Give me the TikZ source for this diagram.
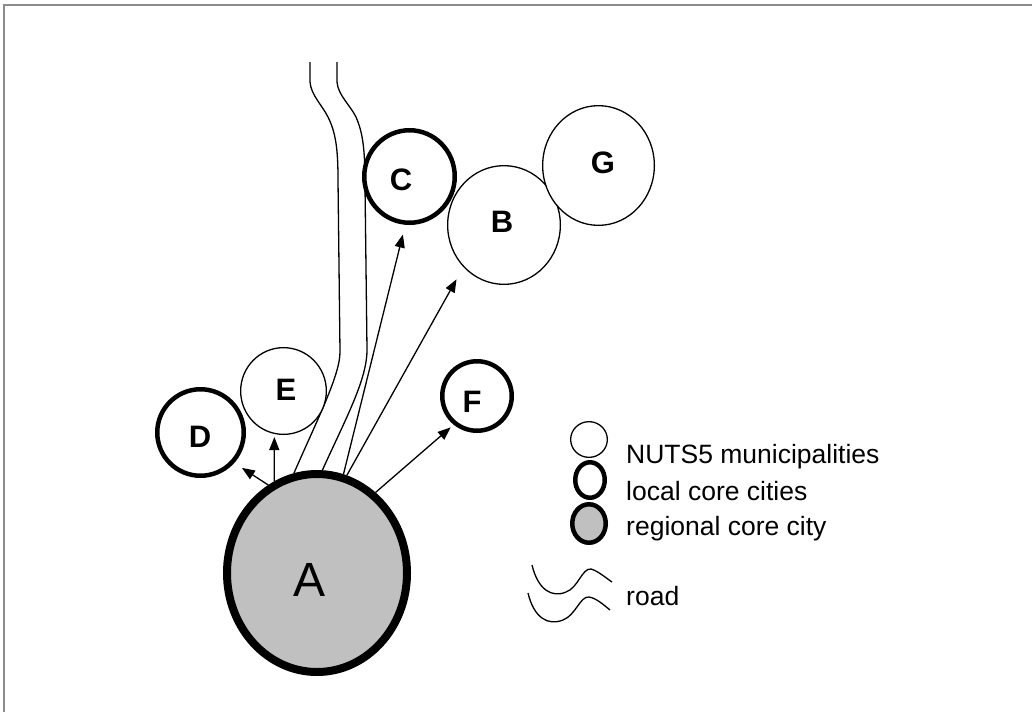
\documentclass[tikz,border=0pt]{standalone}
\usepackage{fontspec}
\setmainfont{Liberation Sans}
\usetikzlibrary{shapes.geometric,arrows.meta,backgrounds}
\definecolor{cityfill}{HTML}{C0C0C0}
\definecolor{framegray}{HTML}{8C8C8C}
\begin{document}
\begin{tikzpicture}[x=1pt,y=-1pt,
  muni/.style={draw=black,ellipse,line width=1.3pt,inner sep=0pt,fill=white},
  localcity/.style={draw=black,ellipse,line width=4.5pt,inner sep=0pt,fill=white},
  regcity/.style={draw=black,ellipse,line width=8pt,inner sep=0pt,fill=cityfill},
  letter/.style={font=\fontsize{31}{33}\selectfont\bfseries,inner sep=0pt},
  bigletter/.style={font=\fontsize{48}{50}\selectfont,inner sep=0pt},
  legtext/.style={font=\fontsize{26.5}{28}\selectfont,inner sep=0pt,anchor=base west},
  roadline/.style={draw=black,line width=1.3pt},
  link/.style={draw=black,line width=1.3pt,-{Triangle[length=13pt,width=10pt]}}
]
\useasboundingbox (0,0) rectangle (1032,712);
\draw[framegray,line width=2pt] (4,712) -- (4,5) -- (1032,5);

% cities
\node[regcity,minimum width=180pt,minimum height=198pt] (A) at (317,573) {};
\node[muni,minimum width=112.7pt,minimum height=118.7pt] (B) at (504,225) {};
\node[muni,minimum width=111.7pt,minimum height=119.7pt] (G) at (598.5,165.5) {};
\node[localcity,minimum width=90.5pt,minimum height=92.5pt] (C) at (409.5,176.5) {};
\node[localcity,minimum width=86.5pt,minimum height=86.5pt] (D) at (200.5,432.5) {};
\node[muni,minimum width=85.7pt,minimum height=86.7pt] (E) at (283.5,391) {};
\node[localcity,minimum width=69.5pt,minimum height=69.5pt] (F) at (477,396) {};

% letters
\node[bigletter] (lA) at (310,580) {A};
\node[letter] (lB) at (502,222) {B};
\node[letter] (lC) at (401,180) {C};
\node[letter] (lD) at (200,437) {D};
\node[letter] (lE) at (286,390) {E};
\node[letter] (lF) at (472,402) {F};
\node[letter] (lG) at (603,163) {G};

% road
\begin{pgfonlayer}{background}
\draw[roadline] (310,62) -- (310,82) .. controls (311,95) and (322,105) .. (328,117)
  .. controls (336,133) and (338,150) .. (338,180) -- (340,352)
  .. controls (340,375) and (318,418) .. (A.103);
\draw[roadline] (337,62) -- (337,82) .. controls (338,95) and (350,105) .. (356,117)
  .. controls (363,133) and (365,150) .. (365,185) -- (367,350)
  .. controls (367,380) and (345,420) .. (A.87);
\end{pgfonlayer}

% links
\draw[link,shorten >=9pt] (A.119.6) -- (D.-42);
\draw[link,shorten >=3pt] (A.115.3) -- (E.-102.9);
\draw[link,shorten >=10pt] (A.75) -- (C.-95.7);
\draw[link,shorten >=14pt] (A.73) -- (B.-134.4);
\draw[link,shorten >=4pt] (A.54) -- (F.-129.8);

% legend
\node[muni,minimum width=36.7pt,minimum height=35.7pt] (L1) at (589,439.5) {};
\node[localcity,minimum width=29.5pt,minimum height=35.5pt] (L2) at (590,480) {};
\node[localcity,fill=cityfill,minimum width=33.5pt,minimum height=38.5pt] (L3) at (589,523.5) {};
\node[legtext] (t1) at (626,463) {NUTS5 municipalities};
\node[legtext] (t2) at (626,500) {local core cities};
\node[legtext] (t3) at (626,535) {regional core city};
\draw[roadline] (532,565) .. controls (538,590) and (552,598) .. (566,592)
  .. controls (578,588) and (582,568) .. (591,569) .. controls (598,571) and (606,578) .. (612,582);
\draw[roadline] (528,593) .. controls (534,618) and (548,626) .. (563,620)
  .. controls (576,615) and (580,596) .. (589,597) .. controls (596,598) and (604,605) .. (610,610);
\node[legtext] (t4) at (626,605) {road};
\end{tikzpicture}
\end{document}
